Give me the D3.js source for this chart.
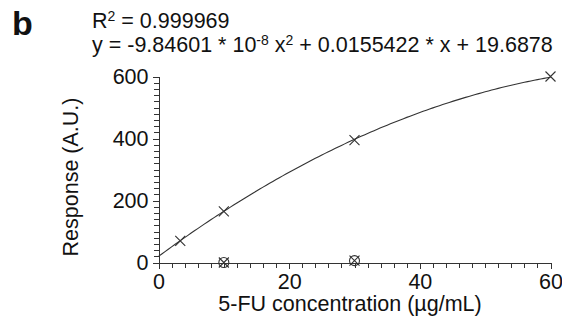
<!DOCTYPE html>
<html>
<head>
<meta charset="utf-8">
<script src="https://cdn.jsdelivr.net/npm/d3@7"></script>
<style>
  body { margin: 0; background: #fff; }
  text { font-family: Arial, "Liberation Sans", sans-serif; fill: #111; }
  .axis path, .axis line { stroke: #333; stroke-width: 1; shape-rendering: crispEdges; }
  .axis text { font-size: 21.5px; fill: #111; }
</style>
</head>
<body>
<div id="chart"></div>
<script>
// calibration standards (5-FU, µg/mL) and measured response
var concX = [3.33, 10, 30, 60];
var respY = [70, 165, 395, 600];
// blank / zero-response samples (circled crosses)
var blankX = [10, 30];
var blankY = [0, 6];
// quadratic fit as printed on the chart (x in ng/mL)
var fitA = -9.84601e-8;
var fitB = 0.0155422;
var fitC = 19.6878;
var xMajor = [0, 20, 40, 60];
var yMajor = [0, 200, 400, 600];

var svgWidth = 562;
var svgHeight = 326;

var svg = d3.select("#chart")
  .append("svg")
  .attr("width", svgWidth)
  .attr("height", svgHeight);

var xScale = d3.scaleLinear().domain([0, 60]).range([158.5, 550.5]);
var yScale = d3.scaleLinear().domain([0, 600]).range([262.5, 76.5]);

// minor ticks first, then the labelled ones
svg.append("g")
  .attr("class", "axis")
  .attr("transform", "translate(0,262.5)")
  .call(d3.axisBottom(xScale).tickValues(d3.range(0, 61, 2)).tickSize(5).tickSizeOuter(0).tickFormat(""));

svg.append("g")
  .attr("class", "axis")
  .attr("transform", "translate(0,262.5)")
  .call(d3.axisBottom(xScale).tickValues(xMajor).tickSize(6).tickSizeOuter(0).tickPadding(5));

svg.append("g")
  .attr("class", "axis")
  .attr("transform", "translate(158.5,0)")
  .call(d3.axisLeft(yScale).tickValues(d3.range(0, 601, 20)).tickSize(5).tickSizeOuter(0).tickFormat(""));

svg.append("g")
  .attr("class", "axis")
  .attr("transform", "translate(158.5,0)")
  .call(d3.axisLeft(yScale).tickValues(yMajor).tickSize(6).tickSizeOuter(0).tickPadding(4));

// fitted curve
var fitLine = d3.line()
  .x(d => xScale(d))
  .y(d => yScale(fitA * (d * 1000) * (d * 1000) + fitB * d * 1000 + fitC));

svg.append("path")
  .datum(d3.range(0, 60.01, 0.5))
  .attr("d", fitLine)
  .attr("fill", "none")
  .attr("stroke", "#333")
  .attr("stroke-width", 1.1);

// cross markers
var s = 5;
function cross(g, xs, ys) {
  xs.forEach(function (v, i) {
    var cx = xScale(v), cy = yScale(ys[i]);
    g.append("path")
      .attr("d", `M${cx - s},${cy - s}L${cx + s},${cy + s}M${cx - s},${cy + s}L${cx + s},${cy - s}`)
      .attr("stroke", "#333")
      .attr("stroke-width", 1.1)
      .attr("fill", "none");
  });
}
var marks = svg.append("g");
cross(marks, concX, respY);
cross(marks, blankX, blankY);

marks.selectAll("circle")
  .data(blankX)
  .enter()
  .append("circle")
  .attr("cx", d => xScale(d))
  .attr("cy", (d, i) => yScale(blankY[i]))
  .attr("r", 5)
  .attr("fill", "none")
  .attr("stroke", "#333")
  .attr("stroke-width", 1.1);

// axis titles
svg.append("text")
  .attr("x", 350)
  .attr("y", 311)
  .attr("text-anchor", "middle")
  .style("font-size", "21.5px")
  .text("5-FU concentration (µg/mL)");

svg.append("text")
  .attr("transform", "translate(78,177) rotate(-90)")
  .attr("text-anchor", "middle")
  .style("font-size", "21.5px")
  .text("Response (A.U.)");

// panel letter and fit text
svg.append("text")
  .attr("x", 12)
  .attr("y", 35)
  .style("font-size", "34px")
  .style("font-weight", "bold")
  .text("b");

var r2 = svg.append("text")
  .attr("x", 92)
  .attr("y", 28)
  .style("font-size", "21.5px");
r2.append("tspan").text("R");
r2.append("tspan").attr("dy", -7).style("font-size", "14px").text("2");
r2.append("tspan").attr("dy", 7).text(" = 0.999969");

var eq = svg.append("text")
  .attr("x", 92)
  .attr("y", 52)
  .style("font-size", "21.5px");
eq.append("tspan").text("y = -9.84601 * 10");
eq.append("tspan").attr("dy", -7).style("font-size", "14px").text("-8");
eq.append("tspan").attr("dy", 7).text(" x");
eq.append("tspan").attr("dy", -7).style("font-size", "14px").text("2");
eq.append("tspan").attr("dy", 7).text(" + 0.0155422 * x + 19.6878");
</script>
</body>
</html>
